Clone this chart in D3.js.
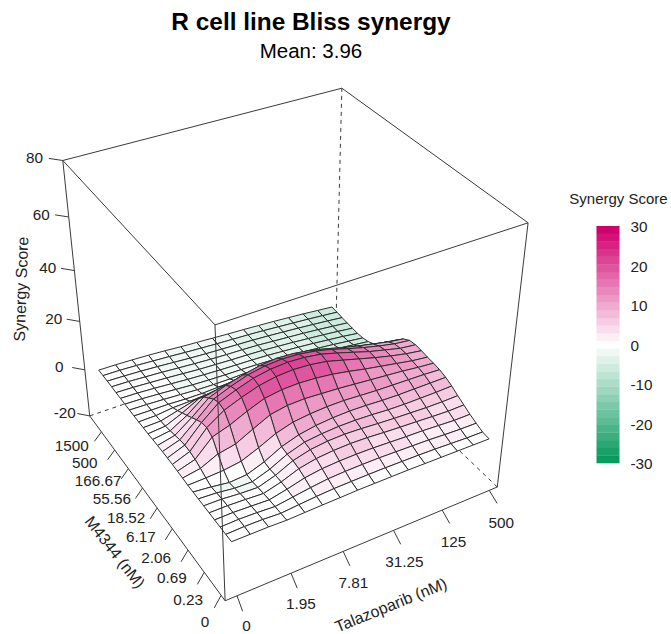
<!DOCTYPE html>
<html>
<head>
<meta charset="utf-8">
<title>R cell line Bliss synergy</title>
<script src="https://cdn.jsdelivr.net/npm/d3@7"></script>
<style>
	html, body { margin: 0; padding: 0; background: #fff; }
	svg { display: block; }
	text { font-family: "Liberation Sans", Arial, sans-serif; fill: #222; }
</style>
</head>
<body>
<div id="chart"></div>
<script>

var talazoparibLabels = ["0", "1.95", "7.81", "31.25", "125", "500"];
var m4344Labels = ["0", "0.23", "0.69", "2.06", "6.17", "18.52", "55.56", "166.67", "500", "1500"];
var zTicks = [-20, 0, 20, 40, 60, 80];
var legendTicks = [-30, -20, -10, 0, 10, 20, 30];

// one row per M4344 grid step (front to back), one value per talazoparib grid step
var synergy = [
	[0, 0, 0, -0.2, 0, 0.2, 0.3, 0.5, 0.5, 0.5, 0.5, 0.4, 0.3, 0.2, 0.1, 0],
	[0, 0.2, 0.1, -0.3, 0.3, 0.8, 1.2, 1.3, 1.4, 1.4, 1.3, 1.2, 1, 0.7, 0.4, 0.3],
	[0, 0.2, 0, -0.4, 0.6, 1.6, 2.4, 2.7, 2.8, 2.8, 2.6, 2.4, 2.2, 1.8, 1.5, 1.4],
	[0, 0.1, -0.2, -0.5, 1, 2.8, 3.8, 4.2, 4.3, 4.2, 3.9, 3.6, 3.4, 3, 2.6, 2.6],
	[0, 0, -0.3, -0.7, 1.2, 3.8, 5.2, 5.8, 6, 5.8, 5.3, 4.9, 4.6, 4.2, 3.9, 4],
	[0, -0.1, -0.7, -1, 1.2, 4.4, 6.2, 7, 7.2, 6.9, 6.4, 6, 5.7, 5.4, 5.3, 5.4],
	[0, -0.4, -1.3, -1.4, 1, 4.4, 6.6, 7.4, 7.8, 7.8, 7.5, 7, 6.8, 6.8, 6.8, 7],
	[0, -0.7, -1.7, -1.2, 1.3, 4.8, 7, 8.2, 8.8, 9, 8.8, 8.4, 8.2, 8.2, 8.2, 8.2],
	[0, 0.2, 0.6, 1.6, 4.4, 7.6, 9.6, 10.4, 10.8, 10.8, 10.4, 10, 9.8, 9.6, 9.4, 9],
	[0.2, 1.4, 4.6, 6, 9.4, 12.6, 13.8, 14, 13.6, 13.2, 12.6, 12, 11.4, 10.8, 10, 9.4],
	[0.3, 2.4, 8.8, 11, 14, 16.6, 17.6, 17.8, 17.4, 16.6, 15.4, 14, 12.8, 11.6, 10.4, 9.6],
	[0.4, 3, 10, 14.4, 17, 19.2, 20.4, 20.8, 20.4, 19.4, 17.6, 15.8, 14, 12.4, 11, 10],
	[0.4, 3, 9.6, 15, 17.6, 19.8, 21, 21.4, 21, 20, 18.2, 16.2, 14.2, 12.6, 11, 10.2],
	[0.4, 2.6, 8.2, 14, 16.6, 18.8, 20, 20.4, 20, 19, 17.4, 15.4, 13.6, 12, 10.6, 9.8],
	[0.3, 1.9, 6.6, 12, 14.6, 16.4, 17.8, 18.4, 18, 17, 15.4, 13.6, 12, 10.6, 9.2, 8.2],
	[0.2, 1.2, 5, 10, 11.4, 12.8, 14, 14.6, 14.2, 13.4, 12, 10.6, 9.2, 8, 6.6, 5.6],
	[0, 0.6, 3.5, 7, 7.8, 8.8, 9.8, 10.2, 10, 9.4, 8.4, 7.2, 6, 4.8, 3.6, 2.6],
	[0, 0.2, 2, 3.8, 4.4, 5.6, 6.6, 7, 6.8, 6.2, 5.2, 4.2, 3.2, 2, 1, 0.2],
	[-0.1, 0, 0.8, 1, 1.4, 2.2, 2.8, 3, 2.8, 2.2, 1.4, 0.6, -0.4, -1.2, -2, -2.8],
	[-0.1, -0.2, -0.2, -0.5, -0.6, -0.3, 0, 0.2, 0, -0.4, -1, -1.8, -2.6, -3.4, -4.2, -5],
	[-0.1, -0.3, -0.6, -1, -1.4, -1.6, -1.6, -1.4, -1.6, -2, -2.6, -3.2, -4, -4.6, -5.4, -6.2],
	[-0.1, -0.3, -0.7, -1.2, -1.7, -2, -2.2, -2.3, -2.5, -2.8, -3.3, -3.9, -4.5, -5.2, -6, -6.8],
	[-0.1, -0.3, -0.7, -1.2, -1.7, -2.1, -2.4, -2.6, -2.8, -3.1, -3.6, -4.1, -4.7, -5.4, -6.1, -7],
	[-0.1, -0.3, -0.7, -1.1, -1.6, -2.1, -2.4, -2.7, -2.9, -3.2, -3.7, -4.2, -4.8, -5.4, -6.1, -6.9],
	[0, -0.2, -0.6, -1, -1.5, -2, -2.4, -2.7, -2.9, -3.2, -3.7, -4.2, -4.7, -5.3, -6, -6.7],
	[0, -0.2, -0.5, -0.9, -1.4, -1.9, -2.3, -2.6, -2.9, -3.2, -3.6, -4.1, -4.6, -5.2, -5.8, -6.5],
	[0, -0.1, -0.4, -0.8, -1.2, -1.7, -2.1, -2.5, -2.8, -3.1, -3.5, -4, -4.5, -5, -5.6, -6.2],
	[0, -0.1, -0.3, -0.6, -1, -1.5, -1.9, -2.3, -2.7, -3, -3.4, -3.8, -4.3, -4.8, -5.4, -6]
];


var width = 671,
	height = 634;

var svg = d3.select("#chart").append("svg")
	.attr("width", width)
	.attr("height", height);


//*******************************************************************************************
//
//		3D PROJECTION
//
//*******************************************************************************************

// box coordinates run from -1 to 1 on every axis
var gridX = d3.scaleLinear().domain([0, synergy[0].length - 1]).range([-0.92, 0.93]);
var gridY = d3.scaleLinear().domain([0, synergy.length - 1]).range([-0.95, 0.95]);
var scaleZ = d3.scaleLinear().domain([-20, 80]).range([-1, 1]);

var xTickPos = d3.scaleLinear().domain([0, talazoparibLabels.length - 1]).range([-0.92, 0.935]);
var xLabelShift = d3.scaleLinear().domain([0, talazoparibLabels.length - 1]).range([-0.065, -0.115]);
var xLabelOut = d3.scaleLinear().domain([0, talazoparibLabels.length - 1]).range([-1.235, -1.28]);
var yTickPos = d3.scaleLinear().domain([1, m4344Labels.length - 1]).range([-0.95, 0.8]);
var yLabelPos = d3.scaleLinear().domain([0, m4344Labels.length - 1]).range([-1.089, 0.773]);
var yLabelOut = d3.scaleLinear().domain([0, m4344Labels.length - 1]).range([-1.18, -1.23]);

var theta = 30 * Math.PI / 180,
	phi = 35.5 * Math.PI / 180,
	viewDist = 8.8,
	focal = 1398,
	centerX = 287,
	centerY = 329;

function project(u, v, w) {
	var sx = u * Math.cos(theta) - v * Math.sin(theta);
	var dp = u * Math.sin(theta) + v * Math.cos(theta);
	var sy = dp * Math.sin(phi) + w * Math.cos(phi);
	var depth = dp * Math.cos(phi) - w * Math.sin(phi);
	var k = focal / (viewDist + depth);
	return { x: centerX + sx * k, y: centerY - sy * k, depth: depth };
}

function drawSegment(group, a, b, dashed) {
	var line = group.append("line")
		.attr("x1", a.x).attr("y1", a.y)
		.attr("x2", b.x).attr("y2", b.y)
		.attr("stroke", "#3a3a3a")
		.attr("stroke-width", 1);
	if (dashed) line.attr("stroke-dasharray", "4,4");
}


//*******************************************************************************************
//
//		COLOURS
//
//*******************************************************************************************

var bandCount = 31;
var rampHigh = d3.interpolateRgb("#ffffff", "#d0006f");
var rampLow = d3.interpolateRgb("#ffffff", "#0a9a5e");
var bandColors = d3.range(bandCount).map(function(i) {
	var t = (i - (bandCount - 1) / 2) / ((bandCount - 1) / 2);
	return t >= 0 ? rampHigh(t) : rampLow(-t);
});
var colorScale = d3.scaleQuantize().domain([-30, 30]).range(bandColors);


//*******************************************************************************************
//
//		BOX AND SURFACE
//
//*******************************************************************************************

var backLayer = svg.append("g");
var surfaceLayer = svg.append("g");
var frontLayer = svg.append("g");

function corner(u, v, w) { return project(u, v, w); }

// hidden edges
drawSegment(backLayer, corner(1, 1, -1), corner(1, 1, 1), true);
drawSegment(backLayer, corner(-1, 1, -1), corner(1, 1, -1), true);
drawSegment(backLayer, corner(1, -1, -1), corner(1, 1, -1), true);

var cells = [];
synergy.forEach(function(row, j) {
	if (j == synergy.length - 1) return;
	row.forEach(function(z, i) {
		if (i == row.length - 1) return;
		var zs = [z, row[i + 1], synergy[j + 1][i + 1], synergy[j + 1][i]];
		var pts = [
			project(gridX(i), gridY(j), scaleZ(zs[0])),
			project(gridX(i + 1), gridY(j), scaleZ(zs[1])),
			project(gridX(i + 1), gridY(j + 1), scaleZ(zs[2])),
			project(gridX(i), gridY(j + 1), scaleZ(zs[3]))
		];
		cells.push({ pts: pts, mean: d3.mean(zs), depth: d3.mean(pts, function(p) { return p.depth; }) });
	});
});
cells.sort(function(a, b) { return b.depth - a.depth; });

surfaceLayer.selectAll("path")
	.data(cells)
	.enter()
	.append("path")
	.attr("d", function(d) {
		return "M" + d.pts.map(function(p) { return p.x + "," + p.y; }).join("L") + "Z";
	})
	.attr("fill", function(d) { return colorScale(d.mean); })
	.attr("stroke", "#2e2e2e")
	.attr("stroke-width", 1)
	.attr("stroke-linejoin", "round");

// visible edges
drawSegment(frontLayer, corner(-1, -1, -1), corner(-1, -1, 1));
drawSegment(frontLayer, corner(-1, 1, -1), corner(-1, 1, 1));
drawSegment(frontLayer, corner(1, -1, -1), corner(1, -1, 1));
drawSegment(frontLayer, corner(-1, -1, -1), corner(1, -1, -1));
drawSegment(frontLayer, corner(-1, -1, -1), corner(-1, 1, -1));
drawSegment(frontLayer, corner(-1, -1, 1), corner(1, -1, 1));
drawSegment(frontLayer, corner(-1, -1, 1), corner(-1, 1, 1));
drawSegment(frontLayer, corner(1, 1, 1), corner(1, -1, 1));
drawSegment(frontLayer, corner(1, 1, 1), corner(-1, 1, 1));


//*******************************************************************************************
//
//		AXES
//
//*******************************************************************************************

function drawLabel(p, label) {
	frontLayer.append("text")
		.attr("x", p.x)
		.attr("y", p.y)
		.attr("text-anchor", "middle")
		.attr("dominant-baseline", "central")
		.attr("font-size", 15.3)
		.text(label);
}

talazoparibLabels.forEach(function(label, i) {
	var u = xTickPos(i);
	drawSegment(frontLayer, project(u, -1, -1), project(u - 0.03, -1.125, -1));
	drawLabel(project(u + xLabelShift(i), xLabelOut(i), -1), label);
});

m4344Labels.forEach(function(label, i) {
	if (i > 0) {
		var v = yTickPos(i);
		drawSegment(frontLayer, project(-1, v, -1), project(-1.082, v - 0.068, -1));
	}
	drawLabel(project(yLabelOut(i), yLabelPos(i), -1), label);
});

zTicks.forEach(function(tick) {
	var w = scaleZ(tick);
	drawSegment(frontLayer, project(-1, 1, w), project(-1.064, 1.067, w));
	drawLabel(project(-1.135, 1.12, w), tick);
});

function drawTitle(x, y, angle, label) {
	svg.append("text")
		.attr("transform", "translate(" + x + "," + y + ") rotate(" + angle + ")")
		.attr("text-anchor", "middle")
		.attr("dominant-baseline", "central")
		.attr("font-size", 16)
		.text(label);
}

drawTitle(391, 605, -22, "Talazoparib (nM)");
drawTitle(115, 552, 52, "M4344 (nM)");
drawTitle(21, 289, -88, "Synergy Score");

svg.append("text")
	.attr("x", 311).attr("y", 21)
	.attr("text-anchor", "middle")
	.attr("dominant-baseline", "central")
	.attr("font-size", 24.4)
	.attr("font-weight", "bold")
	.style("fill", "#000")
	.text("R cell line Bliss synergy");

svg.append("text")
	.attr("x", 311).attr("y", 50)
	.attr("text-anchor", "middle")
	.attr("dominant-baseline", "central")
	.attr("font-size", 20.5)
	.style("fill", "#000")
	.text("Mean: 3.96");


//*******************************************************************************************
//
//		LEGEND
//
//*******************************************************************************************

var legendY = d3.scaleLinear().domain([-30, 30]).range([463, 226]);
var bandStep = 60 / bandCount;

svg.append("g").selectAll("rect")
	.data(bandColors)
	.enter()
	.append("rect")
	.attr("x", 596.5)
	.attr("width", 23)
	.attr("y", function(d, i) { return legendY(-30 + (i + 1) * bandStep); })
	.attr("height", legendY(0) - legendY(bandStep) + 0.3)
	.attr("fill", function(d) { return d; });

svg.append("g").selectAll("text")
	.data(legendTicks)
	.enter()
	.append("text")
	.attr("x", 630.5)
	.attr("y", function(d) { return legendY(d) + 0.5; })
	.attr("dominant-baseline", "central")
	.attr("font-size", 15.3)
	.text(function(d) { return d; });

svg.append("text")
	.attr("x", 618.5).attr("y", 198)
	.attr("text-anchor", "middle")
	.attr("dominant-baseline", "central")
	.attr("font-size", 15)
	.text("Synergy Score");

</script>
</body>
</html>
